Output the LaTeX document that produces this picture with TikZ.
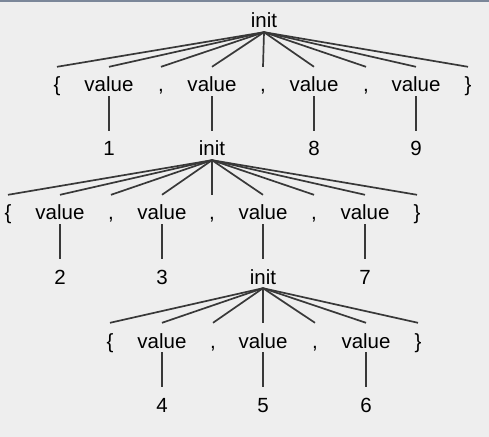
\documentclass[tikz,border=0pt]{standalone}
\usepackage{fontspec}
\setmainfont{Liberation Sans}
\definecolor{bgray}{HTML}{EEEEEE}
\definecolor{topbar}{HTML}{7B8799}
\begin{document}
\begin{tikzpicture}[x=1bp,y=-1bp,
  tok/.style={anchor=base,inner sep=0pt,text height=25bp,text depth=4bp,
    font=\fontsize{20.5bp}{24bp}\selectfont},
  edge/.style={line width=1.7bp,draw=black!78}]
\useasboundingbox (0,0) rectangle (489,437);
\fill[bgray] (0,0) rectangle (489,437);
\fill[topbar] (0,0) rectangle (489,2.2);
\node[tok] (i0) at (264,28) {init};
\foreach \t/\x [count=\k] in {\{/57,value/109,{,}/161,value/212,{,}/263,value/314,{,}/366,value/416,\}/468}
  {\node[tok] (a\k) at (\x,92) {\t};
   \draw[edge] (i0.south) -- (a\k.north);}
\foreach \t/\x [count=\k] in {1/109,init/212,8/314,9/416}
  \node[tok] (b\k) at (\x,156) {\t};
\foreach \j/\k in {2/1,4/2,6/3,8/4}
  \draw[edge] (a\j.south) -- (b\k.north);
\foreach \t/\x [count=\k] in {\{/8,value/60,{,}/111,value/162,{,}/212,value/263,{,}/314,value/365,\}/417}
  {\node[tok] (c\k) at (\x,220) {\t};
   \draw[edge] (b2.south) -- (c\k.north);}
\foreach \t/\x [count=\k] in {2/60,3/162,init/263,7/365}
  \node[tok] (d\k) at (\x,284) {\t};
\foreach \j/\k in {2/1,4/2,6/3,8/4}
  \draw[edge] (c\j.south) -- (d\k.north);
\foreach \t/\x [count=\k] in {\{/110,value/162,{,}/213,value/263,{,}/315,value/366,\}/418}
  {\node[tok] (e\k) at (\x,348) {\t};
   \draw[edge] (d3.south) -- (e\k.north);}
\foreach \t/\x [count=\k] in {4/162,5/263,6/366}
  \node[tok] (f\k) at (\x,412) {\t};
\foreach \j/\k in {2/1,4/2,6/3}
  \draw[edge] (e\j.south) -- (f\k.north);
\end{tikzpicture}
\end{document}
